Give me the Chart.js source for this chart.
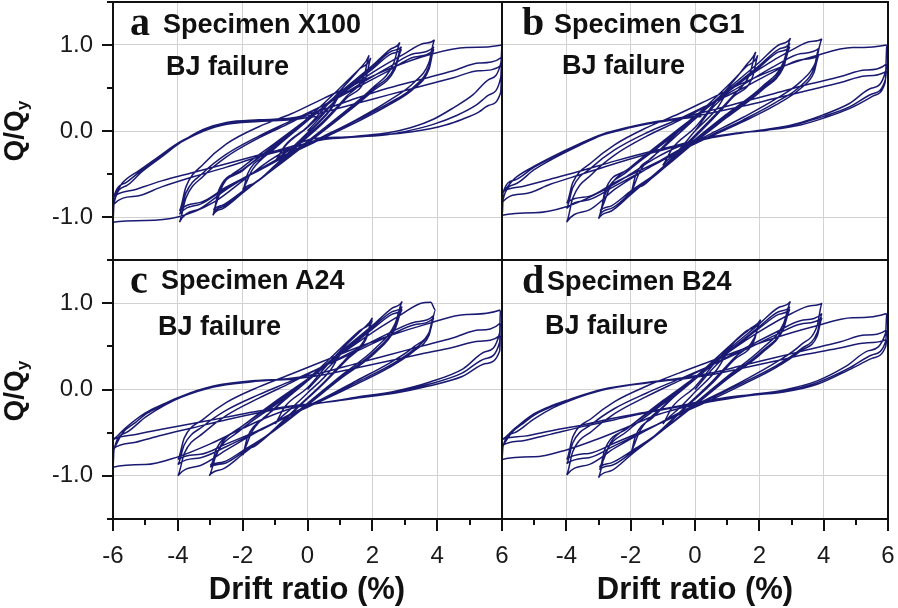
<!DOCTYPE html>
<html>
<head>
<meta charset="utf-8">
<script src="https://cdn.jsdelivr.net/npm/chart.js@4.4.1/dist/chart.umd.min.js"></script>
<style>
  body { margin: 0; background: #fff; }
  #wrap { position: relative; width: 898px; height: 608px; overflow: hidden; }
  #wrap canvas { position: absolute; left: 0; top: 0; }
  .txt { position: absolute; line-height: 1; white-space: nowrap; color: #111; font-weight: bold; }
</style>
</head>
<body>
<div id="wrap"></div>
<script>
(function(){
  // tick labels shown on the axes
  const xTicks = [-6, -4, -2, 0, 2, 4, 6];
  const yTicks = [-1, 0, 1];

  // drift ratio (%) , Q/Qy  -- loading path
  const specimenX100 = [
    [0,0],[0.5,0.2],[1,0.42],[0.7,0.25],[0,-0.02],[-0.5,-0.2],[-1,-0.36],[-0.7,-0.18],[0,0.04],[0.5,0.22],[1,0.42],[0.7,0.24],[0,-0.03],[-0.5,-0.2],[-1,-0.35],[-0.7,-0.17],[0,0.05],
    [0.6,0.3],[1.2,0.55],[1.6,0.72],[1.9,0.88],[1.75,0.65],[1.2,0.4],[0.5,0.12],[-0.3,-0.15],[-1,-0.4],[-1.6,-0.6],[-2,-0.7],
    [-1.85,-0.5],[-1.3,-0.28],[-0.5,-0.02],[0.3,0.25],[1,0.5],[1.6,0.72],[1.95,0.85],[1.8,0.62],[1.2,0.38],[0.5,0.1],[-0.3,-0.17],[-1,-0.42],[-1.6,-0.6],[-2,-0.68],
    [-1.7,-0.45],[-1,-0.2],[0,0.12],[1,0.45],[2,0.76],[2.55,0.95],[2.85,1.03],[2.65,0.78],[2,0.5],[1,0.18],[0,-0.12],[-1,-0.42],[-2,-0.72],[-2.6,-0.9],[-2.92,-0.98],
    [-2.75,-0.72],[-2,-0.46],[-1,-0.17],[0,0.12],[1,0.43],[2,0.74],[2.6,0.93],[2.9,0.98],[2.7,0.75],[2,0.48],[1,0.16],[0,-0.13],[-1,-0.43],[-2,-0.71],[-2.6,-0.88],[-2.9,-0.95],
    [-2.75,-0.7],[-2,-0.45],[-1,-0.16],[0,0.13],[1,0.42],[2,0.72],[2.6,0.9],[2.9,0.95],[2.7,0.72],[2,0.46],[1,0.15],[0,-0.14],[-1,-0.43],[-2,-0.7],[-2.6,-0.86],[-2.9,-0.92],
    [-2.6,-0.62],[-2,-0.42],[-1,-0.14],[0,0.14],[1,0.42],[2,0.68],[3,0.9],[3.6,1.02],[3.92,1.06],[3.75,0.8],[3.3,0.57],[2.5,0.35],[1.5,0.13],[0.5,-0.06],[-0.5,-0.24],[-1.5,-0.45],[-2.5,-0.68],[-3.3,-0.9],[-3.95,-1.06],
    [-3.75,-0.78],[-3.2,-0.52],[-2.5,-0.3],[-1.5,-0.08],[-0.5,0.1],[0.5,0.3],[1.5,0.52],[2.5,0.74],[3.3,0.9],[3.9,0.98],[3.75,0.75],[3.3,0.52],[2.5,0.32],[1.5,0.12],[0.5,-0.07],[-0.5,-0.25],[-1.5,-0.45],[-2.5,-0.66],[-3.3,-0.85],[-3.95,-0.97],
    [-3.75,-0.72],[-3.2,-0.48],[-2.5,-0.27],[-1.5,-0.06],[-0.5,0.12],[0.5,0.3],[1.5,0.5],[2.5,0.7],[3.3,0.86],[3.9,0.95],[3.75,0.72],[3.3,0.5],[2.5,0.3],[1.5,0.1],[0.5,-0.08],[-0.5,-0.26],[-1.5,-0.46],[-2.5,-0.65],[-3.3,-0.83],[-3.95,-0.93],
    [-3.75,-0.65],[-3.2,-0.38],[-2.5,-0.15],[-1.5,0.05],[-0.5,0.2],[0.5,0.38],[1.5,0.55],[2.5,0.72],[3.7,0.88],[4.9,0.97],[6,1.0],
    [5.97,0.8],[5.6,0.6],[5.1,0.42],[4.5,0.27],[3.9,0.14],[3.2,0.04],[2.5,-0.02],[1.5,-0.06],[0.5,-0.1],[-0.5,-0.2],[-1.2,-0.35],[-1.9,-0.55],[-2.9,-0.83],[-4,-1.0],[-5,-1.04],[-6,-1.06],
    [-5.97,-0.84],[-5.6,-0.64],[-5.1,-0.47],[-4.5,-0.3],[-3.9,-0.13],[-3.2,0.02],[-2.5,0.1],[-1.5,0.13],[-0.5,0.15],[0.5,0.25],[1.5,0.38],[2.5,0.5],[3.5,0.6],[4.5,0.7],[5.3,0.79],[6,0.86],
    [5.96,0.62],[5.6,0.42],[5.2,0.3],[4.6,0.18],[3.9,0.08],[3.2,0.01],[2.5,-0.04],[1.5,-0.07],[0.5,-0.1],[-0.5,-0.2],[-1.5,-0.3],[-2.5,-0.42],[-3.5,-0.53],[-4.5,-0.65],[-5.3,-0.76],[-6,-0.86],
    [-5.97,-0.76],[-5.6,-0.6],[-5,-0.42],[-4.4,-0.26],[-3.9,-0.13],[-3.2,0],[-2.6,0.08],[-1.5,0.12],[-0.5,0.14],[0.5,0.22],[1.5,0.32],[2.5,0.42],[3.5,0.52],[4.5,0.62],[5.3,0.7],[6,0.77],
    [5.96,0.45],[5.6,0.3],[5.28,0.22],[4.8,0.14],[4.26,0.07],[3.23,-0.01],[2.2,-0.05],[1.2,-0.07],[0.15,-0.09],[-0.5,-0.18],[-1.5,-0.28],[-2.5,-0.38],[-3.5,-0.48],[-4.5,-0.58],[-5.3,-0.68],[-6,-0.77],
    [-5.7,-0.6],[-5.2,-0.46],[-4.6,-0.3],[-3.95,-0.13],[-3.2,0],[-2.6,0.07],[-1.5,0.11],[-0.5,0.13],[0.3,0.17]
  ];

  const specimenCG1 = [
    [0,0],[0.5,0.25],[1,0.45],[0.7,0.27],[0,0],[-0.5,-0.22],[-1,-0.4],[-0.7,-0.2],[0,0.04],
    [0.6,0.32],[1.2,0.58],[1.6,0.77],[1.89,0.92],[1.7,0.66],[1.2,0.42],[0.5,0.14],[-0.3,-0.16],[-1,-0.42],[-1.6,-0.63],[-2,-0.74],
    [-1.85,-0.52],[-1.3,-0.3],[-0.5,0],[0.3,0.27],[1,0.52],[1.6,0.75],[1.95,0.88],[1.8,0.64],[1.2,0.4],[0.5,0.12],[-0.3,-0.18],[-1,-0.44],[-1.6,-0.62],[-2,-0.72],
    [-1.7,-0.46],[-1,-0.2],[0,0.14],[1,0.48],[2,0.8],[2.6,1.0],[2.97,1.08],[2.75,0.8],[2.1,0.52],[1,0.2],[0,-0.1],[-1,-0.42],[-2,-0.74],[-2.6,-0.93],[-3,-1.02],
    [-2.8,-0.74],[-2.1,-0.47],[-1,-0.15],[0,0.15],[1,0.46],[2,0.76],[2.6,0.95],[2.95,1.02],[2.75,0.77],[2.1,0.5],[1,0.18],[0,-0.12],[-1,-0.43],[-2,-0.72],[-2.6,-0.9],[-2.95,-0.97],
    [-2.8,-0.7],[-2.1,-0.45],[-1,-0.14],[0,0.16],[1,0.45],[2,0.74],[2.6,0.92],[2.95,0.98],[2.75,0.74],[2.1,0.48],[1,0.16],[0,-0.13],[-1,-0.44],[-2,-0.7],[-2.6,-0.87],[-2.95,-0.93],
    [-2.6,-0.62],[-2,-0.42],[-1,-0.12],[0,0.17],[1,0.45],[2,0.72],[3,0.94],[3.6,1.04],[3.95,1.07],[3.75,0.8],[3.3,0.58],[2.5,0.37],[1.5,0.16],[0.5,-0.03],[-0.5,-0.22],[-1.5,-0.44],[-2.5,-0.68],[-3.3,-0.92],[-3.99,-1.06],
    [-3.8,-0.78],[-3.2,-0.5],[-2.5,-0.28],[-1.5,-0.06],[-0.5,0.12],[0.5,0.32],[1.5,0.54],[2.5,0.76],[3.3,0.9],[3.85,0.96],[3.7,0.73],[3.3,0.53],[2.5,0.33],[1.5,0.13],[0.5,-0.05],[-0.5,-0.24],[-1.5,-0.44],[-2.5,-0.64],[-3.3,-0.8],[-3.99,-0.9],
    [-3.8,-0.66],[-3.2,-0.42],[-2.5,-0.22],[-1.5,-0.02],[-0.5,0.14],[0.5,0.32],[1.5,0.5],[2.5,0.7],[3.3,0.83],[3.85,0.88],[3.7,0.68],[3.3,0.5],[2.5,0.3],[1.5,0.11],[0.5,-0.06],[-0.5,-0.24],[-1.5,-0.42],[-2.5,-0.6],[-3.3,-0.76],[-3.99,-0.84],
    [-3.8,-0.6],[-3.2,-0.36],[-2.5,-0.16],[-1.5,0.04],[-0.5,0.2],[0.5,0.38],[1.5,0.56],[2.5,0.72],[3.7,0.87],[4.9,0.97],[5.96,1.0],
    [5.93,0.7],[5.5,0.5],[4.8,0.32],[4,0.19],[3.3,0.1],[2.5,0.03],[1.5,-0.02],[0.5,-0.08],[-0.5,-0.18],[-1.3,-0.33],[-2,-0.5],[-3,-0.72],[-4,-0.88],[-5,-0.95],[-5.99,-0.98],
    [-5.97,-0.8],[-5.6,-0.62],[-5,-0.45],[-4.45,-0.33],[-3.6,-0.17],[-2.9,-0.05],[-2,0.05],[-1.36,0.1],[-0.5,0.15],[0.5,0.24],[1.5,0.34],[2.5,0.44],[3.5,0.54],[4.5,0.63],[5.3,0.71],[5.96,0.78],
    [5.92,0.6],[5.5,0.43],[4.8,0.28],[4,0.17],[3.28,0.09],[2.25,0.02],[1.2,-0.03],[0.2,-0.09],[-0.5,-0.17],[-1.5,-0.27],[-2.5,-0.38],[-3.5,-0.5],[-4.5,-0.62],[-5.3,-0.73],[-5.99,-0.83],
    [-5.97,-0.72],[-5.6,-0.57],[-5,-0.42],[-4.45,-0.31],[-3.6,-0.16],[-2.9,-0.05],[-2,0.04],[-1.36,0.09],[-0.5,0.14],[0.5,0.21],[1.5,0.29],[2.5,0.38],[3.5,0.47],[4.5,0.56],[5.3,0.64],[5.96,0.7],
    [5.9,0.55],[5.5,0.4],[4.8,0.26],[4,0.15],[3.28,0.07],[2.25,0.01],[1.2,-0.03],[0.19,-0.09],[-0.5,-0.16],[-1.5,-0.25],[-2.5,-0.35],[-3.5,-0.46],[-4.5,-0.56],[-5.3,-0.64],[-5.99,-0.71],
    [-5.6,-0.55],[-5,-0.41],[-4.45,-0.3],[-3.6,-0.15],[-2.9,-0.04],[-2,0.05],[-1.36,0.1],[-0.5,0.14],[0.2,0.17]
  ];

  const specimenA24 = [
    [0,0],[0.5,0.2],[1,0.4],[0.7,0.22],[0,-0.04],[-0.5,-0.22],[-1,-0.4],[-0.7,-0.2],[0,0.02],
    [0.6,0.28],[1.2,0.52],[1.7,0.7],[2,0.83],[1.8,0.6],[1.2,0.36],[0.5,0.08],[-0.3,-0.2],[-1,-0.45],[-1.6,-0.65],[-2,-0.76],
    [-1.85,-0.55],[-1.3,-0.32],[-0.5,-0.04],[0.3,0.22],[1,0.47],[1.6,0.68],[2,0.8],[1.8,0.58],[1.2,0.34],[0.5,0.07],[-0.3,-0.21],[-1,-0.46],[-1.6,-0.65],[-2,-0.74],
    [-1.7,-0.48],[-1,-0.22],[0,0.1],[1,0.43],[2,0.74],[2.6,0.94],[2.92,1.02],[2.7,0.76],[2.1,0.48],[1,0.15],[0,-0.16],[-1,-0.46],[-2,-0.75],[-2.6,-0.92],[-3.03,-1.0],
    [-2.8,-0.74],[-2.1,-0.48],[-1,-0.18],[0,0.1],[1,0.42],[2,0.72],[2.6,0.9],[2.92,0.96],[2.7,0.72],[2.1,0.45],[1,0.13],[0,-0.17],[-1,-0.47],[-2,-0.73],[-2.6,-0.86],[-3,-0.9],
    [-2.8,-0.68],[-2.1,-0.45],[-1,-0.16],[0,0.11],[1,0.4],[2,0.7],[2.6,0.87],[2.92,0.93],[2.7,0.7],[2.1,0.43],[1,0.12],[0,-0.18],[-1,-0.47],[-2,-0.71],[-2.6,-0.84],[-3,-0.88],
    [-2.6,-0.6],[-2,-0.42],[-1,-0.14],[0,0.12],[1,0.4],[2,0.66],[2.9,0.87],[3.5,1.0],[3.8,1.01],[3.95,0.92],[3.8,0.7],[3.3,0.5],[2.5,0.3],[1.5,0.1],[0.5,-0.1],[-0.5,-0.28],[-1.5,-0.48],[-2.5,-0.7],[-3.3,-0.88],[-4,-1.0],
    [-3.8,-0.74],[-3.2,-0.5],[-2.5,-0.3],[-1.5,-0.1],[-0.5,0.08],[0.5,0.27],[1.5,0.46],[2.5,0.65],[3.3,0.78],[3.9,0.86],[3.75,0.66],[3.3,0.47],[2.5,0.27],[1.5,0.08],[0.5,-0.11],[-0.5,-0.29],[-1.5,-0.48],[-2.5,-0.66],[-3.3,-0.79],[-4,-0.87],
    [-3.8,-0.64],[-3.2,-0.42],[-2.5,-0.24],[-1.5,-0.06],[-0.5,0.1],[0.5,0.27],[1.5,0.44],[2.5,0.62],[3.3,0.75],[3.9,0.83],[3.75,0.63],[3.3,0.45],[2.5,0.25],[1.5,0.06],[0.5,-0.12],[-0.5,-0.29],[-1.5,-0.47],[-2.5,-0.63],[-3.3,-0.75],[-4,-0.81],
    [-3.8,-0.56],[-3.2,-0.34],[-2.5,-0.15],[-1.5,0.03],[-0.5,0.18],[0.5,0.33],[1.5,0.48],[2.5,0.62],[3.7,0.76],[4.9,0.87],[5.95,0.92],
    [5.93,0.66],[5.5,0.44],[4.8,0.24],[3.8,0.09],[2.7,-0.02],[1.5,-0.09],[0.5,-0.15],[-0.5,-0.22],[-1.3,-0.33],[-2,-0.45],[-3,-0.63],[-4,-0.78],[-5,-0.87],[-6,-0.9],
    [-5.97,-0.7],[-5.6,-0.5],[-5,-0.32],[-4.4,-0.18],[-3.9,-0.09],[-2.9,0.03],[-1.7,0.09],[-0.5,0.13],[0.5,0.2],[1.5,0.3],[2.5,0.4],[3.5,0.5],[4.5,0.6],[5.3,0.69],[5.95,0.77],
    [5.93,0.55],[5.5,0.36],[4.77,0.19],[3.74,0.06],[2.72,-0.03],[1.5,-0.1],[0.5,-0.15],[-0.5,-0.2],[-1.5,-0.27],[-2.5,-0.35],[-3.5,-0.44],[-4.5,-0.53],[-5.3,-0.61],[-6,-0.69],
    [-5.7,-0.5],[-5.3,-0.38],[-4.97,-0.28],[-4.4,-0.17],[-3.9,-0.08],[-2.9,0.04],[-1.7,0.1],[-0.5,0.12],[0.5,0.17],[1.5,0.25],[2.5,0.33],[3.5,0.41],[4.5,0.49],[5.3,0.56],[5.95,0.63],
    [5.93,0.45],[5.5,0.3],[4.77,0.15],[3.74,0.04],[2.72,-0.04],[1.5,-0.1],[0.5,-0.15],[-0.5,-0.19],[-1.5,-0.25],[-2.5,-0.32],[-3.5,-0.39],[-4.5,-0.46],[-5.3,-0.52],[-6,-0.58],
    [-5.6,-0.44],[-5,-0.27],[-4.4,-0.16],[-3.9,-0.08],[-2.9,0.04],[-1.7,0.1],[-0.36,0.12]
  ];

  const specimenB24 = [
    [0,0],[0.5,0.22],[1,0.42],[0.7,0.24],[0,-0.03],[-0.5,-0.22],[-1,-0.4],[-0.7,-0.2],[0,0.03],
    [0.6,0.3],[1.2,0.54],[1.7,0.7],[2.04,0.81],[1.85,0.6],[1.2,0.36],[0.5,0.08],[-0.3,-0.2],[-1,-0.45],[-1.6,-0.64],[-2,-0.75],
    [-1.85,-0.54],[-1.3,-0.32],[-0.5,-0.03],[0.3,0.24],[1,0.48],[1.6,0.68],[2,0.79],[1.85,0.58],[1.2,0.34],[0.5,0.06],[-0.3,-0.21],[-1,-0.46],[-1.6,-0.64],[-2,-0.73],
    [-1.7,-0.47],[-1,-0.2],[0,0.12],[1,0.45],[2,0.76],[2.6,0.95],[2.97,1.02],[2.75,0.76],[2.1,0.48],[1,0.15],[0,-0.16],[-1,-0.47],[-2,-0.76],[-2.6,-0.94],[-3,-1.02],
    [-2.8,-0.75],[-2.1,-0.48],[-1,-0.17],[0,0.12],[1,0.43],[2,0.73],[2.6,0.9],[2.95,0.96],[2.75,0.72],[2.1,0.45],[1,0.13],[0,-0.17],[-1,-0.47],[-2,-0.74],[-2.6,-0.88],[-2.97,-0.93],
    [-2.8,-0.69],[-2.1,-0.45],[-1,-0.15],[0,0.13],[1,0.42],[2,0.71],[2.6,0.87],[2.95,0.93],[2.75,0.7],[2.1,0.43],[1,0.12],[0,-0.18],[-1,-0.47],[-2,-0.72],[-2.6,-0.85],[-2.97,-0.9],
    [-2.6,-0.6],[-2,-0.42],[-1,-0.13],[0,0.14],[1,0.42],[2,0.67],[3,0.88],[3.6,0.97],[3.95,1.0],[3.8,0.74],[3.3,0.52],[2.5,0.31],[1.5,0.1],[0.5,-0.09],[-0.5,-0.27],[-1.5,-0.47],[-2.5,-0.68],[-3.3,-0.87],[-3.99,-0.99],
    [-3.8,-0.72],[-3.2,-0.48],[-2.5,-0.28],[-1.5,-0.08],[-0.5,0.1],[0.5,0.28],[1.5,0.47],[2.5,0.66],[3.3,0.8],[3.95,0.88],[3.8,0.66],[3.3,0.47],[2.5,0.27],[1.5,0.08],[0.5,-0.1],[-0.5,-0.28],[-1.5,-0.47],[-2.5,-0.65],[-3.3,-0.79],[-3.99,-0.86],
    [-3.8,-0.62],[-3.2,-0.4],[-2.5,-0.22],[-1.5,-0.04],[-0.5,0.12],[0.5,0.28],[1.5,0.45],[2.5,0.63],[3.3,0.76],[3.95,0.83],[3.8,0.62],[3.3,0.45],[2.5,0.25],[1.5,0.06],[0.5,-0.12],[-0.5,-0.29],[-1.5,-0.46],[-2.5,-0.62],[-3.3,-0.74],[-3.99,-0.81],
    [-3.8,-0.55],[-3.2,-0.33],[-2.5,-0.14],[-1.5,0.04],[-0.5,0.19],[0.5,0.33],[1.5,0.47],[2.5,0.6],[3.7,0.73],[4.9,0.83],[5.96,0.88],
    [5.93,0.66],[5.4,0.45],[4.7,0.27],[3.8,0.1],[2.7,-0.01],[1.5,-0.07],[0.5,-0.14],[-0.5,-0.22],[-1.3,-0.31],[-2,-0.42],[-3,-0.57],[-4,-0.7],[-5,-0.78],[-6,-0.81],
    [-5.97,-0.66],[-5.6,-0.5],[-5,-0.34],[-4.4,-0.21],[-3.9,-0.13],[-2.9,-0.01],[-1.5,0.08],[-0.5,0.13],[0.5,0.19],[1.5,0.28],[2.5,0.37],[3.5,0.46],[4.5,0.55],[5.3,0.63],[5.96,0.69],
    [5.93,0.56],[5.5,0.4],[4.8,0.25],[3.8,0.08],[2.76,-0.02],[1.5,-0.08],[0.5,-0.14],[-0.5,-0.2],[-1.5,-0.27],[-2.5,-0.35],[-3.5,-0.43],[-4.5,-0.52],[-5.3,-0.59],[-6,-0.65],
    [-5.7,-0.5],[-5.3,-0.38],[-4.97,-0.29],[-4.4,-0.19],[-3.9,-0.12],[-2.9,0],[-1.5,0.08],[-0.5,0.12],[0.5,0.17],[1.5,0.25],[2.5,0.33],[3.5,0.41],[4.5,0.48],[5.3,0.54],[5.96,0.58],
    [5.93,0.5],[5.5,0.36],[4.8,0.23],[3.8,0.06],[2.76,-0.03],[1.2,-0.08],[0.19,-0.14],[-0.5,-0.19],[-1.5,-0.26],[-2.5,-0.33],[-3.5,-0.41],[-4.5,-0.48],[-5.3,-0.54],[-6,-0.58],
    [-5.6,-0.45],[-5,-0.28],[-4.4,-0.18],[-3.94,-0.12],[-2.9,0],[-1.36,0.08],[-0.02,0.14]
  ];

  const NAVY = '#1a1a72';
  const GRID = '#d2d2d2';
  const SANS = '"Liberation Sans", Arial, Helvetica, sans-serif';
  const SERIF = '"Liberation Serif", "Times New Roman", serif';
  const W = 898, H = 608, AXW = 60, AXH = 60;

  const panels = [
    { data: specimenX100, box: [113, 2, 502, 260], left: true, bottom: false },
    { data: specimenCG1, box: [502, 2, 888, 260], left: false, bottom: false },
    { data: specimenA24, box: [113, 260, 502, 519], left: true, bottom: true, labels: xTicks },
    { data: specimenB24, box: [502, 260, 888, 519], left: false, bottom: true, labels: xTicks.slice(1) }
  ];

  const wrap = document.getElementById('wrap');

  // fixed axis size, no extra label padding pushed into the layout
  function fixAxis(s, size) {
    if (s.isHorizontal()) s.height = size; else s.width = size;
    s.paddingLeft = s.paddingRight = s.paddingTop = s.paddingBottom = 0;
  }

  function framePlugin(p) {
    return {
      id: 'frame',
      afterDraw(chart) {
        const { ctx, chartArea: a, scales } = chart;
        ctx.save();
        ctx.strokeStyle = '#111';
        ctx.lineWidth = 2;
        ctx.strokeRect(a.left, a.top, a.right - a.left, a.bottom - a.top);
        ctx.beginPath();
        if (p.left) {
          for (let v = -1.5; v <= 1.5; v += 0.5) {
            const py = Math.round(scales.y.getPixelForValue(v));
            const len = Number.isInteger(v) ? 11 : 6;
            ctx.moveTo(a.left, py); ctx.lineTo(a.left - len, py);
          }
        }
        if (p.bottom) {
          for (let v = -6; v <= 6; v++) {
            const px = Math.round(scales.x.getPixelForValue(v));
            const len = v % 2 === 0 ? 12 : 6;
            ctx.moveTo(px, a.bottom); ctx.lineTo(px, a.bottom + len);
          }
        }
        ctx.stroke();
        ctx.restore();
      }
    };
  }

  panels.forEach(p => {
    const cv = document.createElement('canvas');
    cv.width = W; cv.height = H;
    wrap.appendChild(cv);
    const [l, t, r, b] = p.box;
    new Chart(cv, {
      type: 'scatter',
      data: {
        datasets: [{
          data: p.data.map(([x, y]) => ({ x, y })),
          showLine: true,
          borderColor: NAVY,
          borderWidth: 1.5,
          pointRadius: 0,
          cubicInterpolationMode: 'monotone',
          fill: false
        }]
      },
      options: {
        responsive: false,
        animation: false,
        devicePixelRatio: 1,
        events: [],
        layout: { padding: { left: l - AXW, top: t, right: W - r, bottom: H - b - AXH } },
        plugins: { legend: { display: false }, tooltip: { enabled: false } },
        scales: {
          x: {
            type: 'linear', min: -6, max: 6,
            afterFit: s => fixAxis(s, AXH),
            border: { display: false },
            grid: {
              drawTicks: false,
              color: c => (c.tick && c.tick.value % 2 === 0 && Math.abs(c.tick.value) < 6) ? GRID : 'rgba(0,0,0,0)'
            },
            ticks: {
              display: p.bottom, stepSize: 1, autoSkip: false, maxRotation: 0, padding: 23,
              color: '#1a1a1a', font: { family: SANS, size: 24 },
              callback: v => (p.labels && p.labels.includes(v)) ? String(v) : ''
            }
          },
          y: {
            type: 'linear', min: -1.5, max: 1.5,
            afterFit: s => fixAxis(s, AXW),
            border: { display: false },
            grid: {
              drawTicks: false,
              color: c => (c.tick && yTicks.includes(c.tick.value)) ? GRID : 'rgba(0,0,0,0)'
            },
            ticks: {
              display: p.left, stepSize: 0.5, autoSkip: false, padding: 20,
              color: '#1a1a1a', font: { family: SANS, size: 24 },
              callback: v => yTicks.includes(v) ? v.toFixed(1) : ''
            }
          }
        }
      },
      plugins: [framePlugin(p)]
    });
  });

  // text placed by baseline
  function addText(html, x, baseline, size, family, extra) {
    const d = document.createElement('div');
    d.className = 'txt';
    d.innerHTML = html;
    const k = family === SERIF ? 0.8375 : 0.8465;
    d.style.left = x + 'px';
    d.style.top = (baseline - k * size) + 'px';
    d.style.fontSize = size + 'px';
    d.style.fontFamily = family;
    if (extra) Object.assign(d.style, extra);
    wrap.appendChild(d);
    return d;
  }

  addText('a', 130, 35, 40, SERIF);
  addText('Specimen X100', 163, 34, 27, SANS);
  addText('BJ failure', 166, 76, 27, SANS);
  addText('b', 522, 35, 40, SERIF);
  addText('Specimen CG1', 554, 34, 27, SANS);
  addText('BJ failure', 562, 75, 27, SANS);
  addText('c', 130, 293, 40, SERIF);
  addText('Specimen A24', 161, 290, 27, SANS);
  addText('BJ failure', 158, 336, 27, SANS);
  addText('d', 522, 293, 40, SERIF);
  addText('Specimen B24', 547, 291, 27, SANS);
  addText('BJ failure', 545, 335, 27, SANS);

  // axis titles
  addText('Drift ratio (%)', 307, 599, 31, SANS, { transform: 'translateX(-50%)' });
  addText('Drift ratio (%)', 695, 599, 31, SANS, { transform: 'translateX(-50%)' });
  [131, 391].forEach(cy => {
    const d = document.createElement('div');
    d.className = 'txt';
    d.innerHTML = 'Q/Q<span style="font-size:0.62em;position:relative;top:0.3em">y</span>';
    Object.assign(d.style, { left: '14px', top: cy + 'px', fontSize: '28px', fontFamily: SANS,
      transform: 'translate(-50%,-50%) rotate(-90deg)' });
    wrap.appendChild(d);
  });
})();
</script>
</body>
</html>
